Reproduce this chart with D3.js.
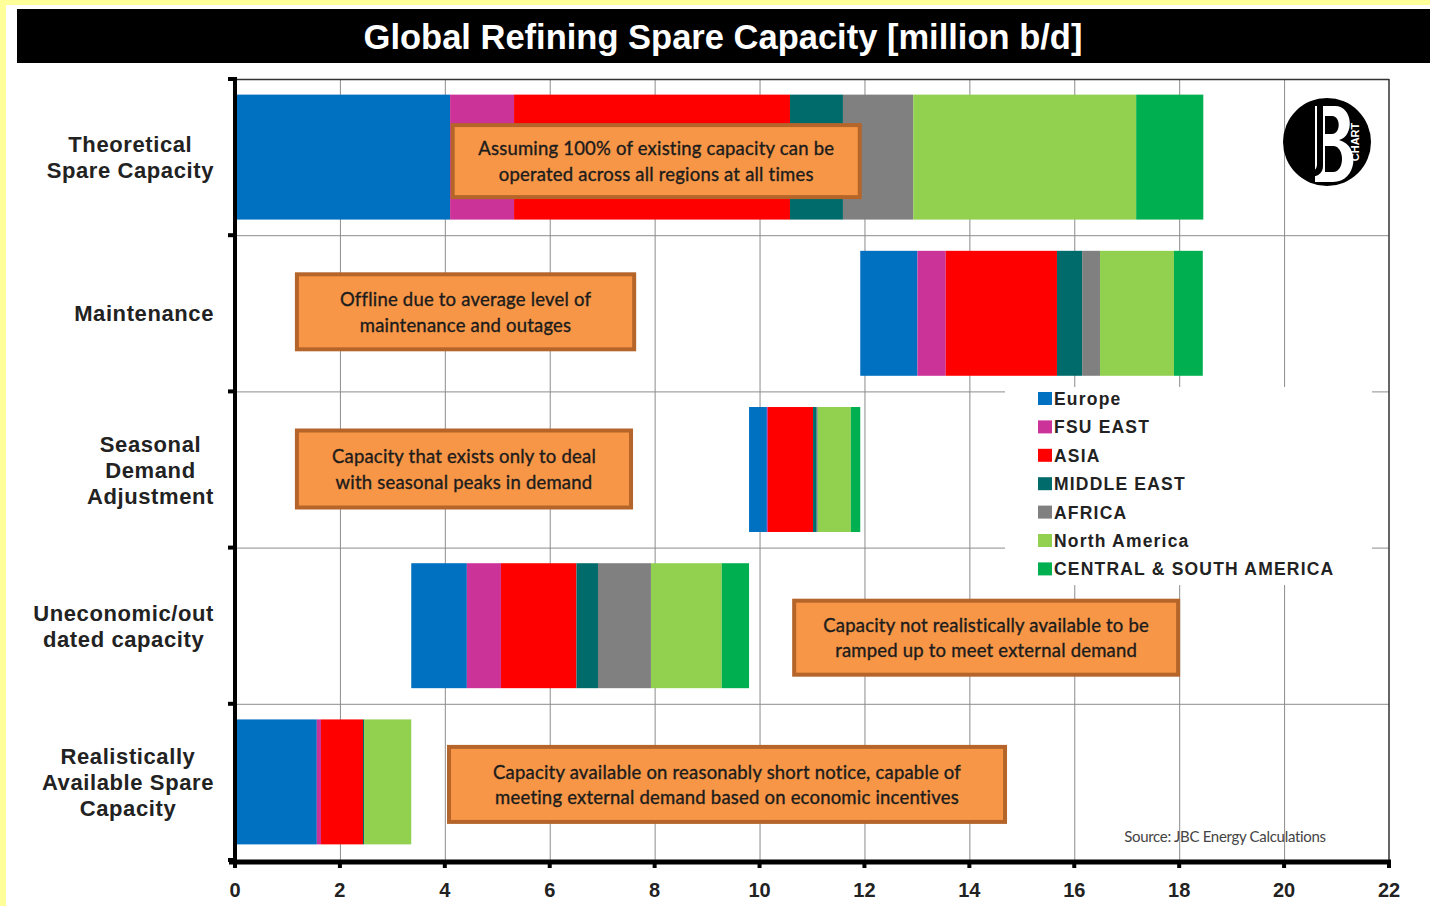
<!DOCTYPE html>
<html>
<head>
<meta charset="utf-8">
<script src="https://cdn.jsdelivr.net/npm/d3@7"></script>
<style>
  html, body { margin: 0; padding: 0; background: #fff; }
  #chart { width: 1430px; height: 906px; }
</style>
</head>
<body>
<div id="chart"></div>
<script>
// rows, top to bottom
var categories = [
  "Theoretical\nSpare Capacity",
  "Maintenance",
  "Seasonal\nDemand\nAdjustment",
  "Uneconomic/out\ndated capacity",
  "Realistically\nAvailable Spare\nCapacity"
];

var regions = ["Europe", "FSU EAST", "ASIA", "MIDDLE EAST", "AFRICA", "North America", "CENTRAL & SOUTH AMERICA"];
var regionColors = ["#0070C0", "#CC3399", "#FF0000", "#006B6B", "#808080", "#92D050", "#00B050"];

// million b/d per region, one array per row
var theoretical = [4.10, 1.22, 5.26, 1.01, 1.34, 4.25, 1.28];
var maintenance = [1.09, 0.54, 2.12, 0.48, 0.34, 1.41, 0.55];
var seasonal    = [0.34, 0.02, 0.86, 0.07, 0.02, 0.63, 0.18];
var uneconomic  = [1.06, 0.65, 1.44, 0.41, 1.01, 1.35, 0.52];
var realistic   = [1.56, 0.08, 0.80, 0.02, 0.00, 0.90, 0.00];

var xTicks = [0, 2, 4, 6, 8, 10, 12, 14, 16, 18, 20, 22];

var notes = [
  ["Assuming 100% of existing capacity can be", "operated across all regions at all times"],
  ["Offline due to average level of", "maintenance and outages"],
  ["Capacity that exists only to deal", "with seasonal peaks in  demand"],
  ["Capacity not realistically available to be", "ramped up to meet external demand"],
  ["Capacity  available on reasonably short notice, capable of", "meeting external demand based on economic incentives"]
];

var sourceText = "Source: JBC Energy Calculations";
var titleText = "Global Refining Spare Capacity [million b/d]";

function chart() {
  var w = 1430, h = 906;
  var left = 235, right = 1389, top = 79, bottom = 860;

  var svg = d3.select("#chart").append("svg")
    .attr("width", w)
    .attr("height", h);

  // yellow frame + title bar
  svg.append("rect").attr("width", w).attr("height", h).attr("fill", "#fff");
  svg.append("rect").attr("x", 0).attr("y", 0).attr("width", 6).attr("height", h).attr("fill", "#FFFF99");
  svg.append("rect").attr("x", 0).attr("y", 0).attr("width", w).attr("height", 5).attr("fill", "#FFFF99");
  svg.append("rect").attr("x", 17).attr("y", 9).attr("width", w - 17).attr("height", 54).attr("fill", "#000");
  svg.append("text")
    .attr("x", 723).attr("y", 49)
    .attr("text-anchor", "middle")
    .attr("fill", "#fff")
    .style("font", "bold 34.5px 'Liberation Sans', Arial, sans-serif")
    .text(titleText);

  var x = d3.scaleLinear().domain([0, 22]).range([left, right]);
  var y = d3.scaleBand().domain(categories).range([top, bottom])
    .paddingInner(0.2).paddingOuter(0.1);
  var step = y.step();

  // build the rows as a waterfall: bottom rows stack up, top row is the total
  var rows = [theoretical, maintenance, seasonal, uneconomic, realistic];
  var bases = new Array(rows.length).fill(0);
  var acc = 0;
  for (var r = rows.length - 1; r >= 1; r--) {
    bases[r] = acc;
    acc += d3.sum(rows[r]);
  }
  var segs = [];
  rows.forEach(function (vals, i) {
    var ends = d3.cumsum(vals);
    vals.forEach(function (v, j) {
      segs.push({ cat: categories[i], reg: j, x0: bases[i] + ends[j] - v, x1: bases[i] + ends[j] });
    });
  });

  // grid
  var grid = svg.append("g").attr("stroke", "#8c8c8c").attr("stroke-width", 1);
  grid.selectAll(".vg").data(xTicks.slice(1, -1)).enter().append("line")
    .attr("x1", d => x(d) + 0.5).attr("x2", d => x(d) + 0.5)
    .attr("y1", top).attr("y2", bottom);
  grid.selectAll(".hg").data(d3.range(1, categories.length)).enter().append("line")
    .attr("x1", left).attr("x2", right)
    .attr("y1", d => top + d * step + 0.5).attr("y2", d => top + d * step + 0.5);
  // plot frame top/right
  svg.append("line").attr("x1", left).attr("x2", right).attr("y1", top + 0.5).attr("y2", top + 0.5)
    .attr("stroke", "#333").attr("stroke-width", 1.5);
  svg.append("line").attr("x1", right).attr("x2", right).attr("y1", top).attr("y2", bottom)
    .attr("stroke", "#333").attr("stroke-width", 1.5);

  // bars
  svg.append("g").selectAll("rect").data(segs.filter(d => d.x1 > d.x0)).enter().append("rect")
    .attr("x", d => x(d.x0))
    .attr("y", d => y(d.cat))
    .attr("width", d => x(d.x1) - x(d.x0))
    .attr("height", y.bandwidth())
    .attr("fill", d => regionColors[d.reg]);

  // axes
  var axis = svg.append("g").attr("stroke", "#000");
  axis.append("line").attr("x1", left).attr("x2", left).attr("y1", top - 2).attr("y2", bottom + 2)
    .attr("stroke-width", 4);
  axis.selectAll(".yt").data(d3.range(0, categories.length + 1)).enter().append("line")
    .attr("x1", left - 7).attr("x2", left)
    .attr("y1", d => top + d * step).attr("y2", d => top + d * step)
    .attr("stroke-width", 4);
  axis.append("line").attr("x1", left - 6).attr("x2", right + 2).attr("y1", bottom + 2).attr("y2", bottom + 2)
    .attr("stroke-width", 5);
  axis.selectAll(".xt").data(xTicks).enter().append("line")
    .attr("x1", d => x(d)).attr("x2", d => x(d))
    .attr("y1", bottom).attr("y2", bottom + 8)
    .attr("stroke-width", 4);

  svg.append("g").selectAll("text").data(xTicks).enter().append("text")
    .attr("x", d => x(d)).attr("y", 897)
    .attr("text-anchor", "middle")
    .attr("fill", "#222")
    .style("font", "bold 20px 'Liberation Sans', Arial, sans-serif")
    .text(d => d);

  // category labels: lines centered on the widest line, right edge at 213
  var labels = svg.append("g");
  categories.forEach(function (c) {
    var lines = c.split("\n");
    var g = labels.append("g");
    var cy = y(c) + y.bandwidth() / 2;
    var t = g.selectAll("text").data(lines).enter().append("text")
      .attr("y", (d, i) => cy + (i - (lines.length - 1) / 2) * 26 + 8)
      .attr("text-anchor", "middle")
      .attr("fill", "#222")
      .style("font", "bold 22px 'Liberation Sans', Arial, sans-serif")
      .style("letter-spacing", "0.6px")
      .text(d => d);
    var maxW = d3.max(t.nodes(), n => n.getComputedTextLength());
    t.attr("x", 214 - maxW / 2);
  });

  // logo
  var logo = svg.append("g").attr("transform", "translate(1327,142)");
  logo.append("circle").attr("r", 44).attr("fill", "#000");
  logo.append("path")
    .attr("d", "M-12,-36 L8,-36 C26,-36 28,-6 12,-2 C34,4 30,40 6,40 L-12,40 Z")
    .attr("fill", "#fff");
  logo.append("path")
    .attr("d", "M-2,-26 L5,-26 C14,-26 14,-8 5,-8 L-2,-8 Z M-2,4 L6,4 C18,4 18,30 6,30 L-2,30 Z")
    .attr("fill", "#000");
  logo.append("path")
    .attr("d", "M-10,-36 L-4,-36 L-4,24 C-4,36 -20,38 -24,28 L-16,26 C-14,30 -10,28 -10,22 Z")
    .attr("fill", "#000");
  logo.append("text").attr("transform", "translate(32,0) rotate(-90)")
    .attr("text-anchor", "middle").attr("fill", "#fff")
    .style("font", "bold 11px 'Liberation Sans', Arial, sans-serif")
    .text("CHART");

  // legend
  var lg = svg.append("g");
  lg.append("rect").attr("x", 1005).attr("y", 387).attr("width", 367).attr("height", 198).attr("fill", "#fff");
  var li = lg.selectAll(".li").data(regions).enter().append("g")
    .attr("transform", (d, i) => "translate(1038," + (399 + i * 28.4) + ")");
  li.append("rect").attr("x", 0).attr("y", -7).attr("width", 14).attr("height", 13)
    .attr("fill", (d, i) => regionColors[i]);
  li.append("text").attr("x", 16).attr("y", 6)
    .attr("fill", "#222")
    .style("font", "bold 17.5px 'Liberation Sans', Arial, sans-serif")
    .style("letter-spacing", "1.2px")
    .text(d => d);

  // annotation boxes, placed in data units along x and within each row
  var boxes = [
    { x0: 4.15, x1: 11.91, row: 0, dy: -32, hgt: 72 },
    { x0: 1.18, x1: 7.61, row: 1, dy: -39, hgt: 75 },
    { x0: 1.18, x1: 7.55, row: 2, dy: -39, hgt: 77 },
    { x0: 10.66, x1: 17.98, row: 3, dy: -25, hgt: 74 },
    { x0: 4.08, x1: 14.68, row: 4, dy: -35, hgt: 75 }
  ];
  var ann = svg.append("g").selectAll("g").data(boxes).enter().append("g");
  ann.append("rect")
    .attr("x", d => x(d.x0)).attr("width", d => x(d.x1) - x(d.x0))
    .attr("y", d => y(categories[d.row]) + y.bandwidth() / 2 + d.dy)
    .attr("height", d => d.hgt)
    .attr("fill", "#F79646").attr("stroke", "#B5652A").attr("stroke-width", 4);
  ann.each(function (d, i) {
    var cx = (x(d.x0) + x(d.x1)) / 2;
    var cy = y(categories[d.row]) + y.bandwidth() / 2 + d.dy + d.hgt / 2;
    d3.select(this).selectAll("text").data(notes[i]).enter().append("text")
      .attr("x", cx)
      .attr("y", (t, k) => cy + (k - 0.5) * 25.5 + 7)
      .attr("text-anchor", "middle")
      .attr("fill", "#1c1c1c")
      .attr("stroke", "#1c1c1c")
      .attr("stroke-width", 0.35)
      .style("font", "18.5px Lato, 'Open Sans', sans-serif")
      .style("letter-spacing", "0.2px")
      .text(t => t);
  });

  // source
  svg.append("text").attr("x", 1225).attr("y", 842)
    .attr("text-anchor", "middle")
    .attr("fill", "#444")
    .style("font", "15px Lato, 'Open Sans', sans-serif")
    .style("letter-spacing", "-0.3px")
    .text(sourceText);
}

chart();
</script>
</body>
</html>
